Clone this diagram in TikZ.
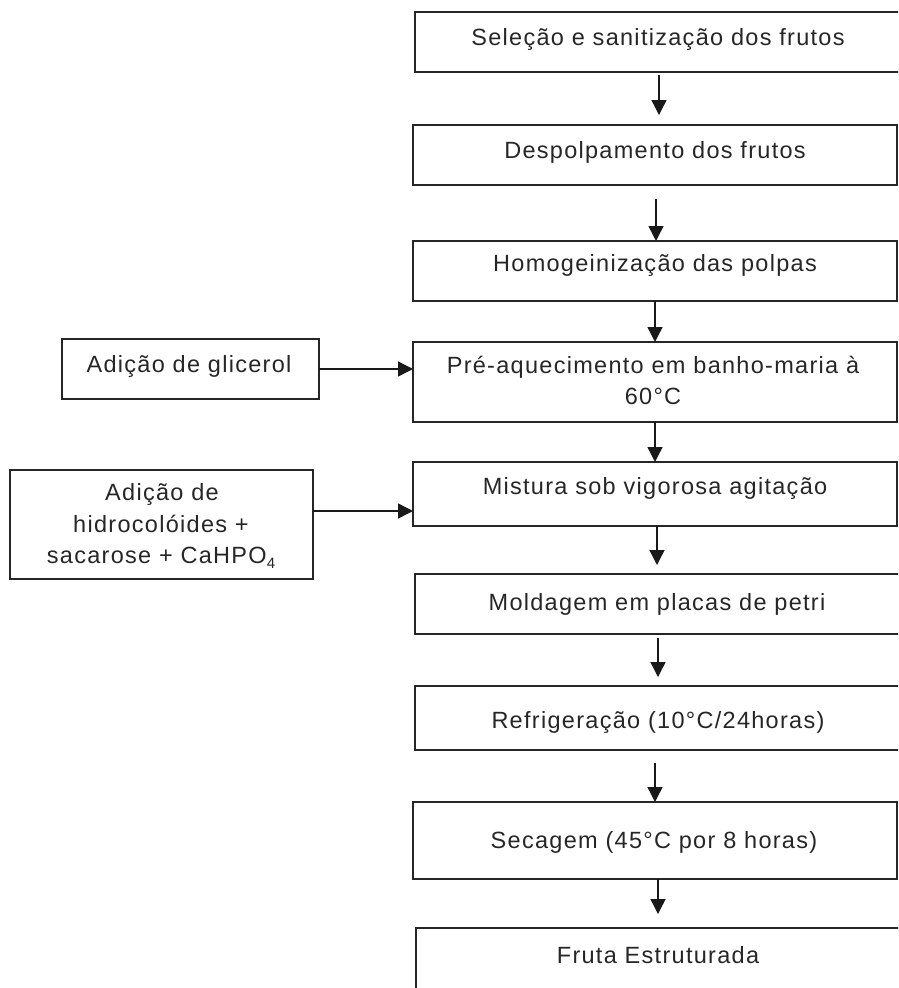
\documentclass[tikz,border=0pt]{standalone}
\usepackage{fontspec}
\setmainfont{Liberation Sans}[LetterSpace=5.5]
\usetikzlibrary{arrows.meta}
\begin{document}
\begin{tikzpicture}[x=1pt,y=-1pt,
  box/.style={draw=black!85, line width=1.5pt, inner sep=0pt, outer sep=0pt, anchor=north west},
  lbl/.style={font=\fontsize{23.5}{31.5}\selectfont, text=black!85, inner sep=0pt, align=center, anchor=base},
  arr/.style={draw=black!90, line width=1.4pt, -{Triangle[length=15pt,width=15pt]}}]
\useasboundingbox (0,0) rectangle (898,988);
\clip (0,0) rectangle (898,988);
% right column boxes
\node[box, minimum width=490pt, minimum height=60pt] (b1) at (415,12) {};
\node[box, minimum width=484pt, minimum height=60pt] (b2) at (413,125) {};
\node[box, minimum width=484pt, minimum height=60pt] (b3) at (413,241) {};
\node[box, minimum width=484pt, minimum height=80pt] (b4) at (413,342) {};
\node[box, minimum width=484pt, minimum height=64pt] (b5) at (413,462) {};
\node[box, minimum width=490pt, minimum height=60pt] (b6) at (415,574) {};
\node[box, minimum width=490pt, minimum height=64pt] (b7) at (415,686) {};
\node[box, minimum width=484pt, minimum height=77pt] (b8) at (413,802) {};
\node[box, minimum width=490pt, minimum height=80pt] (b9) at (416,928) {};
% left boxes
\node[box, minimum width=257pt, minimum height=60pt] (g) at (62,339) {};
\node[box, minimum width=303pt, minimum height=109pt] (h) at (10,470) {};
% texts
\node[lbl] (t1) at (658,45.5) {Seleção e sanitização dos frutos};
\node[lbl] (t2) at (655,158.5) {Despolpamento dos frutos};
\node[lbl] (t3) at (655,271.5) {Homogeinização das polpas};
\node[lbl] (t4a) at (653,373) {Pré-aquecimento em banho-maria à};
\node[lbl] (t4b) at (653,404) {60°C};
\node[lbl] (t5) at (655,494) {Mistura sob vigorosa agitação};
\node[lbl] (t6) at (657,610) {Moldagem em placas de petri};
\node[lbl] (t7) at (658,728) {Refrigeração (10°C/24horas)};
\node[lbl] (t8) at (654,848) {Secagem (45°C por 8 horas)};
\node[lbl] (t9) at (658,963) {Fruta Estruturada};
\node[lbl] (tg) at (189,372) {Adição de glicerol};
\node[lbl] (th1) at (162,500) {Adição de};
\node[lbl] (th2) at (161,532) {hidrocolóides +};
\node[lbl] (th3) at (161,563) {sacarose + CaHPO\raisebox{-5pt}{\fontsize{15}{15}\selectfont 4}};
% vertical connectors
\draw[arr, shorten <=3pt, shorten >=10pt] (b1.south -| 659,0) -- (b2.north -| 659,0);
\draw[arr, shorten <=14pt] (b2.south -| 656,0) -- (b3.north -| 656,0);
\draw[arr] (b3.south -| 655,0) -- (b4.north -| 655,0);
\draw[arr] (b4.south -| 655,0) -- (b5.north -| 655,0);
\draw[arr, shorten >=9pt] (b5.south -| 657,0) -- (b6.north -| 657,0);
\draw[arr, shorten <=4pt, shorten >=9pt] (b6.south -| 658,0) -- (b7.north -| 658,0);
\draw[arr, shorten <=13pt] (b7.south -| 655,0) -- (b8.north -| 655,0);
\draw[arr, shorten >=14pt] (b8.south -| 658,0) -- (b9.north -| 658,0);
% horizontal connectors
\draw[arr] (g.east) -- (b4.west |- g.east);
\draw[arr] (h.east |- 0,511) -- (b5.west |- 0,511);
\end{tikzpicture}
\end{document}
